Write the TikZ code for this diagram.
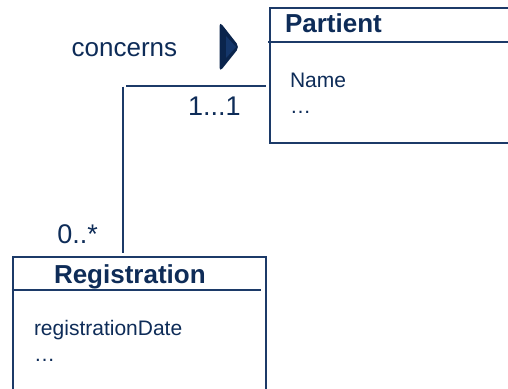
\documentclass[tikz,border=0pt]{standalone}
\usepackage{fontspec}
\setmainfont{Liberation Sans}
\definecolor{navy}{RGB}{14,44,88}
\definecolor{navyline}{RGB}{28,58,104}
\definecolor{marker}{RGB}{10,36,76}
\definecolor{facet}{RGB}{20,54,106}
\tikzset{
  lbl/.style={inner sep=0,outer sep=0,text=navy,anchor=base west},
  classbox/.style={draw=navyline,rectangle,anchor=north west,inner sep=0,outer sep=0},
  title/.style={lbl,font=\fontsize{26bp}{30bp}\selectfont\bfseries},
  attr/.style={lbl,font=\fontsize{21bp}{25bp}\selectfont},
  big/.style={lbl,font=\fontsize{26bp}{30bp}\selectfont},
  conn/.style={draw=navyline,line width=1.8bp}
}
\begin{document}
\begin{tikzpicture}[x=1bp,y=-1bp,line width=1.8bp]
\useasboundingbox (0,0) rectangle (508,388);
\clip (0,0) rectangle (508,388);
\fill[white] (0,0) rectangle (508,388);
% Partient class
\node[classbox,minimum width=252bp,minimum height=134.7bp] (pbox) at (270,8) {};
\draw[navyline] (268,42) -- (522,42);
\node[title] (ptitle) at (285,32.7) {Partient};
\node[attr] (pname) at (290,87.3) {Name};
\node[attr] (pdots) at (290,113) {…};
% Registration class
\node[classbox,minimum width=252.4bp,minimum height=150bp] (rbox) at (13.3,256.7) {};
\draw[navyline] (11.7,290) -- (260.7,290);
\node[title] (rtitle) at (54,283.3) {Registration};
\node[attr] (rdate) at (34,335) {registrationDate};
\node[attr] (rdots) at (34,361) {…};
% association
\coordinate (h1) at (126,85.7);
\coordinate (h2) at (266,85.7);
\coordinate (v1) at (123.3,86.7);
\coordinate (v2) at (123.3,253.3);
\draw[conn] (h1) -- (h2);
\draw[conn] (v1) -- (v2);
\node[big] (concerns) at (71.7,56) {concerns};
\node[lbl,font=\fontsize{27bp}{30bp}\selectfont] (m1) at (188,115) {1...1};
\node[lbl,font=\fontsize{27bp}{30bp}\selectfont] (m2) at (57.3,243.3) {0..*};
% direction marker
\fill[marker,rounded corners=4.5bp] (219.5,21.5) -- (239.5,47) -- (219.5,72) -- cycle;
\fill[facet] (226,36) -- (236,47) -- (226,58) -- cycle;
\end{tikzpicture}
\end{document}
